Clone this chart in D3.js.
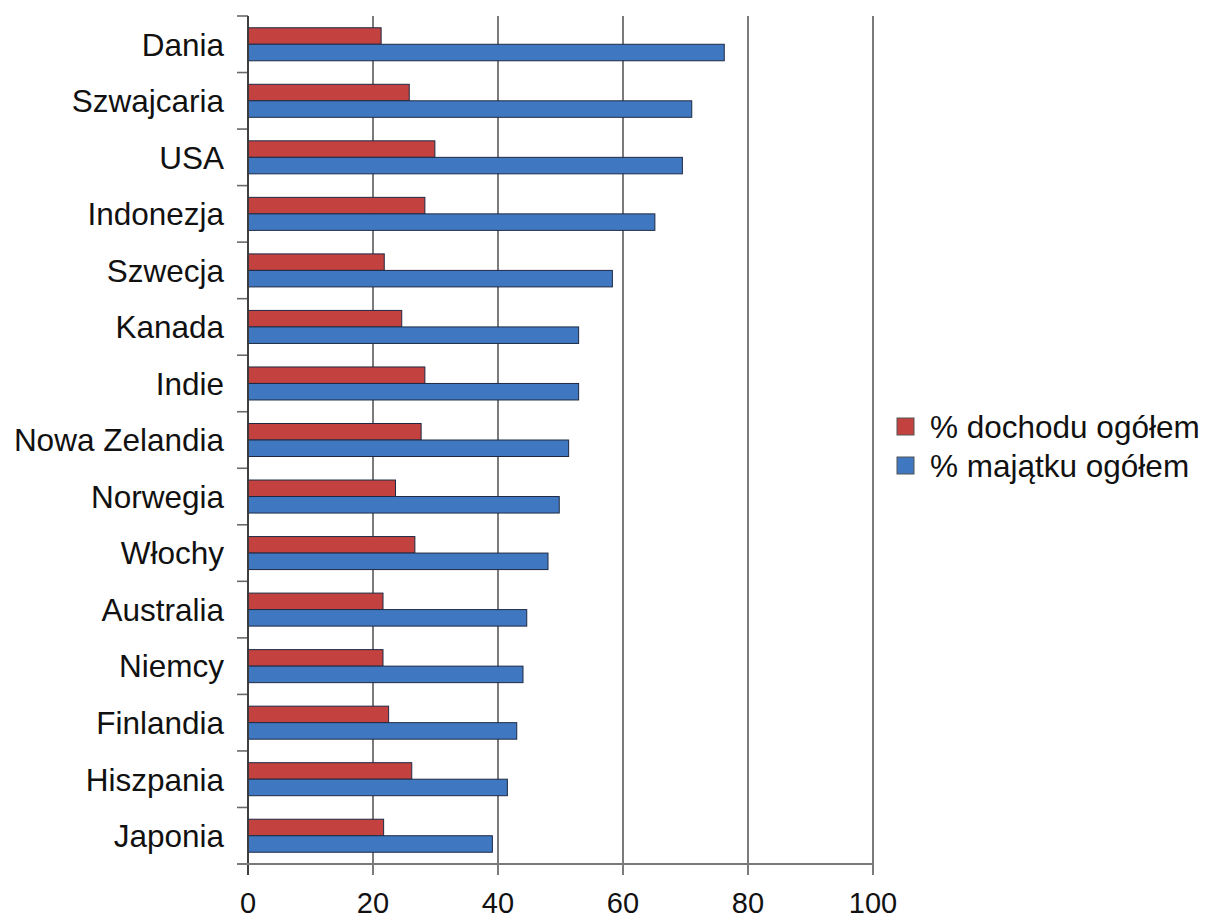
<!DOCTYPE html>
<html>
<head>
<meta charset="utf-8">
<script src="https://cdn.jsdelivr.net/npm/d3@7"></script>
<style>
  html, body { margin: 0; padding: 0; background: #fff; }
  svg { display: block; font-family: "Liberation Sans", Arial, sans-serif; }
</style>
</head>
<body>
<svg id="chart" width="1205" height="918"></svg>
<script>
// Countries, top to bottom
const countries = ["Dania", "Szwajcaria", "USA", "Indonezja", "Szwecja", "Kanada", "Indie",
  "Nowa Zelandia", "Norwegia", "Włochy", "Australia", "Niemcy", "Finlandia", "Hiszpania", "Japonia"];

// Share held by the richest 10%: income and wealth (%)
const incomeShare = [21.3, 25.8, 29.9, 28.3, 21.8, 24.6, 28.3, 27.7, 23.6, 26.7, 21.6, 21.6, 22.5, 26.2, 21.7];
const wealthShare = [76.2, 71.0, 69.5, 65.1, 58.3, 52.9, 52.9, 51.3, 49.8, 48.0, 44.6, 44.0, 43.0, 41.5, 39.1];

const seriesNames = ["% dochodu ogółem", "% majątku ogółem"];
const seriesColors = ["#c3423f", "#3f78c0"];
const xTicks = [0, 20, 40, 60, 80, 100];

const svg = d3.select("#chart");
const plotLeft = 248, plotRight = 873, plotTop = 16, plotBottom = 864;

const x = d3.scaleLinear().domain([0, 100]).range([plotLeft, plotRight]);
const y = d3.scaleBand().domain(countries).range([plotTop, plotBottom])
  .paddingInner(0.416).paddingOuter(0.208);
const ySub = d3.scaleBand().domain([0, 1]).range([0, y.bandwidth()]);

// Vertical gridlines with ticks below the axis
svg.append("g").selectAll("line").data(xTicks).join("line")
  .attr("x1", d => x(d)).attr("x2", d => x(d))
  .attr("y1", plotTop).attr("y2", plotBottom + 11)
  .attr("stroke", "#5a5a5a").attr("stroke-width", 1.6);

// Category ticks on the left axis
const step = y.step();
const bounds = d3.range(countries.length + 1).map(i => plotTop + i * step);
svg.append("g").selectAll("line").data(bounds).join("line")
  .attr("x1", plotLeft - 11).attr("x2", plotLeft)
  .attr("y1", d => d).attr("y2", d => d)
  .attr("stroke", "#6a6a6a").attr("stroke-width", 1.6);

// Bars
const rows = countries.map((c, i) => ({ c, vals: [incomeShare[i], wealthShare[i]] }));
const g = svg.append("g").selectAll("g").data(rows).join("g")
  .attr("transform", d => `translate(0,${y(d.c)})`);
g.selectAll("rect").data(d => d.vals.map((v, k) => ({ v, k }))).join("rect")
  .attr("x", x(0))
  .attr("y", d => ySub(d.k))
  .attr("width", d => x(d.v) - x(0))
  .attr("height", ySub.bandwidth())
  .attr("fill", d => seriesColors[d.k])
  .attr("stroke", "#1e2a44").attr("stroke-width", 1);

// Axis lines
svg.append("line")
  .attr("x1", plotLeft).attr("x2", plotLeft).attr("y1", plotTop).attr("y2", plotBottom + 11)
  .attr("stroke", "#3a3a3a").attr("stroke-width", 1.8);
svg.append("line")
  .attr("x1", plotLeft - 11).attr("x2", plotRight).attr("y1", plotBottom).attr("y2", plotBottom)
  .attr("stroke", "#7a7a7a").attr("stroke-width", 2);

// Category labels
svg.append("g").selectAll("text").data(countries).join("text")
  .attr("x", 224)
  .attr("y", d => y(d) + y.bandwidth() / 2)
  .attr("dy", "0.36em")
  .attr("text-anchor", "end")
  .attr("font-size", 31.5)
  .attr("fill", "#111")
  .text(d => d);

// X tick labels
svg.append("g").selectAll("text").data(xTicks).join("text")
  .attr("x", d => x(d))
  .attr("y", 913)
  .attr("text-anchor", "middle")
  .attr("font-size", 29)
  .attr("fill", "#111")
  .text(d => d);

// Legend
const legend = svg.append("g").selectAll("g").data(seriesNames).join("g")
  .attr("transform", (d, i) => `translate(897,${418 + i * 39})`);
legend.append("rect")
  .attr("width", 17).attr("height", 17)
  .attr("fill", (d, i) => seriesColors[i])
  .attr("stroke", "#555").attr("stroke-width", 1);
legend.append("text")
  .attr("x", 33).attr("y", 8.5).attr("dy", "0.36em")
  .attr("font-size", 31.5)
  .attr("fill", "#111")
  .text(d => d);
</script>
</body>
</html>
